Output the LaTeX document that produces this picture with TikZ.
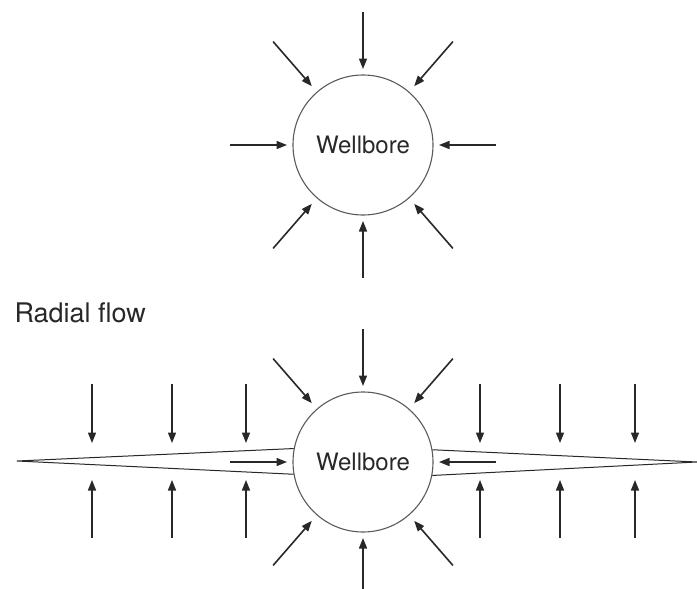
\documentclass[tikz,border=0pt]{standalone}
\usepackage{fontspec}
\setmainfont{TeX Gyre Heros}
\usetikzlibrary{arrows.meta,calc}
\definecolor{ink}{RGB}{40,40,40}
\definecolor{rim}{RGB}{90,90,90}

\begin{document}
\begin{tikzpicture}[x=1pt,y=-1pt,
    well/.style={circle,draw=rim,line width=1.1pt,minimum size=140pt,inner sep=0pt,
        text=ink,font=\fontsize{24}{26}\selectfont},
    flow/.style={draw=ink,line width=1.6pt,-{Triangle[length=10.5pt,width=8pt]}},
    crack/.style={draw=ink,line width=1pt}]
    \useasboundingbox (0,0) rectangle (697,589);
    %
    \node[well] (W1) at (363,145) {Wellbore};
    \node[well] (W2) at (363,462) {Wellbore};
    \node[anchor=base west,text=ink,font=\fontsize{27}{29}\selectfont] (title) at (11,322) {Radial flow};
    %
    \coordinate (TL) at (17,461);
    \coordinate (TR) at (697,462);
    %
    % radial arrows round both wells
    \foreach \w in {W1,W2} {
        \foreach \a in {0,90,180,270}
            \draw[flow] ($(\w.center)+(\a:133)$) -- ($(\w.center)+(\a:76)$);
        \foreach \a in {49,131,229,311}
            \draw[flow] ($(\w.center)+(\a:137)$) -- ($(\w.center)+(\a:78)$);
    }
    %
    % fracture wings
    \draw[crack] (W2.190.5) -- (TL) -- (W2.169.5);
    \draw[crack] (W2.10) -- (TR) -- (W2.349.5);
    %
    % flow into the fracture faces
    \foreach \x in {92,172,246,480,560,635} {
        \draw[flow] (\x,384) -- (\x,443);
        \draw[flow] (\x,538) -- (\x,480);
    }
    %
\end{tikzpicture}
\end{document}
